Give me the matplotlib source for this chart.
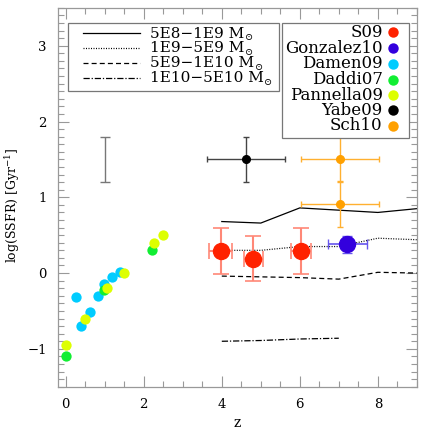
import numpy as np
import matplotlib
matplotlib.use("Agg")
import matplotlib.pyplot as plt
from matplotlib.lines import Line2D
from matplotlib.patches import Rectangle
from matplotlib.ticker import MultipleLocator

plt.rcParams['font.family'] = ['DejaVu Serif', 'DejaVu Sans']
plt.rcParams['mathtext.fontset'] = 'dejavuserif'

# ─────────────────────────────────────────────
# Data
# ─────────────────────────────────────────────

# model tracks, by stellar mass bin
z_model     = [4, 5, 6, 7, 8, 9]
ssfr_5e8    = [0.68, 0.66, 0.86, 0.83, 0.80, 0.85]
ssfr_1e9    = [0.30, 0.30, 0.35, 0.35, 0.46, 0.44]
ssfr_5e9    = [-0.04, -0.05, -0.06, -0.08, 0.01, 0.00]
z_model_hi  = [4, 5, 6, 7]
ssfr_1e10   = [-0.90, -0.89, -0.87, -0.86]

# mass bins; each label is followed by a small "⊙" drawn separately
model_labels = ["5E8\u22121E9 M", "1E9\u22125E9 M",
                "5E9\u22121E10 M", "1E10\u22125E10 M"]

# observations
s09_z    = [3.97, 4.81, 6.03]
s09_y    = [0.29, 0.19, 0.29]
s09_xerr = [0.29, 0.25, 0.25]
s09_yerr = [0.30, 0.30, 0.30]

gon_z, gon_y, gon_xerr, gon_yerr = [7.22], [0.38], [0.50], [0.11]

damen_z = [0.26, 0.39, 0.61, 0.82, 0.99, 1.19, 1.40]
damen_y = [-0.31, -0.70, -0.52, -0.30, -0.15, -0.05, 0.02]

daddi_z = [0.01, 0.99, 2.20]
daddi_y = [-1.10, -0.22, 0.30]

pan_z = [0.01, 0.50, 1.06, 1.50, 2.26, 2.50]
pan_y = [-0.95, -0.61, -0.20, 0.00, 0.40, 0.50]

yabe_z, yabe_y, yabe_xerr, yabe_yerr = [4.62], [1.50], [1.0], [0.30]

sch_z    = [7.02, 7.02]
sch_y    = [1.50, 0.91]
sch_xerr = [1.0, 1.0]
sch_yerr = [0.30, 0.30]

# representative error bar
rep_z, rep_y, rep_yerr = [1.0], [1.50], [0.30]

obs_labels = ["S09", "Gonzalez10", "Damen09", "Daddi07",
              "Pannella09", "Yabe09", "Sch10"]
obs_colors = ["#ff2200", "#3300dd", "#00ccff", "#11ee33",
              "#ddff00", "#000000", "#ffa000"]

# ─────────────────────────────────────────────
# Plot
# ─────────────────────────────────────────────

W = H = 436
fig = plt.figure(figsize=(W / 100, H / 100), dpi=100)
ax = fig.add_axes([0.133, 0.113, 0.823, 0.869])


def px(x, y):
    # pixel position (from top-left) -> figure fraction
    return x / W, 1 - y / H


dotted = (0, (0.8, 1.2))
dashed = (0, (4, 2.5))
dashdot = (0, (5, 1.5, 1, 1.5))

ax.plot(z_model, ssfr_5e8, color="black", lw=0.9, ls="-")
ax.plot(z_model, ssfr_1e9, color="black", lw=0.9, ls=dotted)
ax.plot(z_model, ssfr_5e9, color="black", lw=0.9, ls=dashed)
ax.plot(z_model_hi, ssfr_1e10, color="black", lw=0.9, ls=dashdot)

ax.errorbar(rep_z, rep_y, yerr=rep_yerr, fmt="none", ecolor="#777777",
            elinewidth=1.0, capsize=3.5)

ax.scatter(damen_z, damen_y, s=55, color=obs_colors[2], lw=0, zorder=3)
ax.scatter(daddi_z, daddi_y, s=55, color=obs_colors[3], lw=0, zorder=3)
ax.scatter(pan_z, pan_y, s=55, color=obs_colors[4], lw=0, zorder=3)

ax.errorbar(s09_z, s09_y, xerr=s09_xerr, yerr=s09_yerr, fmt="o",
            color=obs_colors[0], ms=11.5, ecolor="#ff8877", elinewidth=1.5,
            capsize=6, capthick=1.2, zorder=4)
ax.errorbar(gon_z, gon_y, xerr=gon_xerr, yerr=gon_yerr, fmt="o",
            color=obs_colors[1], ms=11.5, ecolor="#6655ee", elinewidth=1.2,
            capsize=3.5, zorder=4)
ax.errorbar(yabe_z, yabe_y, xerr=yabe_xerr, yerr=yabe_yerr, fmt="o",
            color=obs_colors[5], ms=5.5, ecolor="#444444", elinewidth=1.0,
            capsize=2.5, zorder=4)
ax.errorbar(sch_z, sch_y, xerr=sch_xerr, yerr=sch_yerr, fmt="o",
            color=obs_colors[6], ms=5.5, ecolor="#ffb030", elinewidth=1.0,
            capsize=2.5, zorder=4)

ax.set_xlim(-0.2, 9.0)
ax.set_ylim(-1.5, 3.5)
ax.xaxis.set_major_locator(MultipleLocator(2))
ax.xaxis.set_minor_locator(MultipleLocator(0.5))
ax.yaxis.set_major_locator(MultipleLocator(1))
ax.yaxis.set_minor_locator(MultipleLocator(0.1))
ax.tick_params(which="both", direction="in", top=True, right=True,
               color="#999999", labelsize=9.5, pad=8)
ax.tick_params(which="major", length=8, width=0.8)
ax.tick_params(which="minor", length=4, width=0.8)
for sp in ax.spines.values():
    sp.set_color("#999999")
    sp.set_linewidth(0.9)

ax.set_xlabel("z", fontsize=10)
ax.set_ylabel("log(SSFR) [Gyr$^{-1}$]", fontsize=9)
ax.yaxis.label.set_va("center")
ax.yaxis.set_label_coords(-0.128, 0.48)

# ─────────────────────────────────────────────
# Legends (drawn by hand to match the boxed IDL layout)
# ─────────────────────────────────────────────

x0, y0 = px(67.7, 22.7)
x1, y1 = px(279.3, 91)
fig.patches.append(Rectangle((x0, y1), x1 - x0, y0 - y1, transform=fig.transFigure,
                             fill=True, fc="white", ec="#777777", lw=0.9, zorder=5))
row_y = [33.5, 48.3, 63.1, 77.9]
row_texts = []
for yy, ls, lab in zip(row_y, ["-", dotted, dashed, dashdot], model_labels):
    xa, ya = px(82.7, yy)
    xb, _ = px(140, yy)
    fig.lines.append(Line2D([xa, xb], [ya, ya], transform=fig.transFigure,
                            color="black", lw=0.9, ls=ls, zorder=6))
    xt, yt = px(150, yy + 4)
    row_texts.append(fig.text(xt, yt, lab, fontsize=11, ha="left",
                              va="baseline", zorder=6))

# solar symbol after each "M", sitting on the baseline
fig.canvas.draw()
inv = fig.transFigure.inverted()
for t, yy in zip(row_texts, row_y):
    bb = t.get_window_extent()
    xs, _ = inv.transform((bb.x1 + 0.5, 0))
    _, ys = px(0, yy + 4.5)
    fig.text(xs, ys, "\u2299", fontsize=7, ha="left", va="center", zorder=6)

x0, y0 = px(281.7, 22.7)
x1, y1 = px(409.3, 137.7)
fig.patches.append(Rectangle((x0, y1), x1 - x0, y0 - y1, transform=fig.transFigure,
                             fill=True, fc="white", ec="#777777", lw=0.9, zorder=5))
obs_row_y = [32.3, 48.3, 64, 79.5, 95, 110.5, 126]
for yy, c, lab in zip(obs_row_y, obs_colors, obs_labels):
    xm, ym = px(393.3, yy)
    fig.lines.append(Line2D([xm], [ym], transform=fig.transFigure, marker="o",
                            ls="none", ms=7.5, color=c, mew=0, zorder=6))
    xt, yt = px(382.7, yy)
    fig.text(xt, yt, lab, fontsize=12, ha="right", va="center", zorder=6)

fig.savefig("out.png", dpi=100)
